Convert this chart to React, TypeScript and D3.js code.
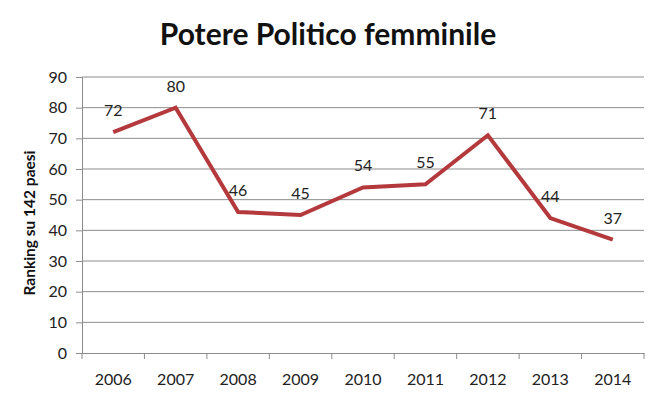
import React, { useEffect, useRef } from 'react';
import * as d3 from 'd3';

// chart data
const years = ['2006', '2007', '2008', '2009', '2010', '2011', '2012', '2013', '2014'];
const ranking = [72, 80, 46, 45, 54, 55, 71, 44, 37];
const yTicks = [0, 10, 20, 30, 40, 50, 60, 70, 80, 90];

const App = () => {
  const svgRef = useRef<SVGSVGElement>(null);

  useEffect(() => {
    const width = 660;
    const height = 399;
    const margin = { top: 77, right: 16, bottom: 46, left: 82 };
    const font = 'Lato, Calibri, "Open Sans", sans-serif';

    const svg = d3.select(svgRef.current).attr('width', width).attr('height', height);
    svg.selectAll('*').remove();

    svg.append('rect').attr('width', width).attr('height', height).attr('fill', '#fff');

    const x = d3.scaleBand().domain(years).range([margin.left, width - margin.right]).padding(0);
    const y = d3.scaleLinear().domain([0, 90]).range([height - margin.bottom, margin.top]);

    // Title
    svg.append('text')
      .attr('x', 328)
      .attr('y', 45)
      .attr('text-anchor', 'middle')
      .style('font-family', font)
      .style('font-weight', 'bold')
      .style('font-size', '30px')
      .attr('fill', '#111')
      .text('Potere Politico femminile');

    // Horizontal gridlines
    svg.append('g')
      .selectAll('line')
      .data(yTicks.filter(d => d > 0))
      .join('line')
      .attr('x1', margin.left)
      .attr('x2', width - margin.right)
      .attr('y1', d => y(d))
      .attr('y2', d => y(d))
      .attr('stroke', '#8c8c8c')
      .attr('stroke-width', 1);

    // Y axis
    const yAxis = svg.append('g')
      .attr('transform', `translate(${margin.left},0)`)
      .call(d3.axisLeft(y).tickValues(yTicks).tickSize(6).tickPadding(9));
    yAxis.select('.domain').attr('stroke', '#8c8c8c');
    yAxis.selectAll('.tick line').attr('stroke', '#8c8c8c');
    yAxis.selectAll('.tick text')
      .style('font-family', font)
      .style('font-size', '16px')
      .attr('fill', '#222');

    // X axis with ticks at band boundaries
    const xAxis = svg.append('g')
      .attr('transform', `translate(0,${y(0)})`)
      .call(d3.axisBottom(x).tickSize(0).tickPadding(21));
    xAxis.select('.domain').attr('stroke', '#8c8c8c');
    xAxis.selectAll('.tick text')
      .style('font-family', font)
      .style('font-size', '16px')
      .attr('fill', '#222');
    xAxis.selectAll('.bound')
      .data(d3.range(years.length + 1))
      .join('line')
      .attr('class', 'bound')
      .attr('x1', i => margin.left + i * x.bandwidth())
      .attr('x2', i => margin.left + i * x.bandwidth())
      .attr('y1', 0)
      .attr('y2', 6)
      .attr('stroke', '#8c8c8c');

    // Y axis label
    svg.append('text')
      .attr('transform', `translate(35,223) rotate(-90)`)
      .attr('text-anchor', 'middle')
      .style('font-family', font)
      .style('font-weight', 'bold')
      .style('font-size', '15.5px')
      .attr('fill', '#111')
      .text('Ranking su 142 paesi');

    // Line
    const line = d3.line<number>()
      .x((_, i) => (x(years[i]) as number) + x.bandwidth() / 2)
      .y(d => y(d));

    svg.append('path')
      .datum(ranking)
      .attr('d', line)
      .attr('fill', 'none')
      .attr('stroke', '#b4393c')
      .attr('stroke-width', 4)
      .attr('stroke-linejoin', 'miter');

    // Data labels
    svg.append('g')
      .selectAll('text')
      .data(ranking)
      .join('text')
      .attr('x', (_, i) => (x(years[i]) as number) + x.bandwidth() / 2)
      .attr('y', d => y(d) - 16)
      .attr('text-anchor', 'middle')
      .style('font-family', font)
      .style('font-size', '16px')
      .attr('fill', '#222')
      .text(d => d);
  }, []);

  return (
    <svg ref={svgRef} style={{ position: 'absolute', left: 0, top: 0, display: 'block' }}></svg>
  );
};

export default App;
